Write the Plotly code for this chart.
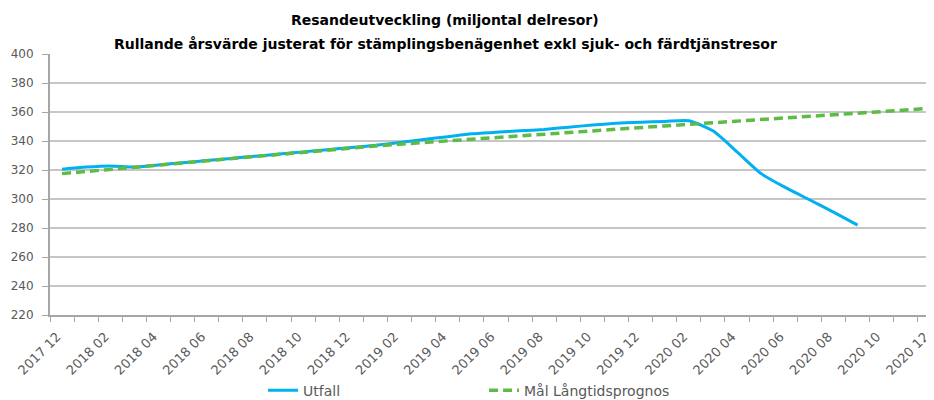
import plotly.graph_objects as go

months = [
    "2017 12",
    "2018 01", "2018 02", "2018 03", "2018 04", "2018 05", "2018 06",
    "2018 07", "2018 08", "2018 09", "2018 10", "2018 11", "2018 12",
    "2019 01", "2019 02", "2019 03", "2019 04", "2019 05", "2019 06",
    "2019 07", "2019 08", "2019 09", "2019 10", "2019 11", "2019 12",
    "2020 01", "2020 02", "2020 03", "2020 04", "2020 05", "2020 06",
    "2020 07", "2020 08", "2020 09", "2020 10", "2020 11", "2020 12",
]

utfall = [
    320.5, 322.0, 322.8, 322.0, 323.5, 325.0, 326.5, 328.0, 329.5, 331.0,
    332.5, 334.0, 335.5, 337.0, 339.0, 341.0, 343.0, 345.0, 346.0, 347.0,
    348.0, 349.5, 351.0, 352.3, 353.0, 353.5, 354.0, 347.0, 332.5, 317.5,
    308.0, 299.5, 291.0, 282.0,
]

mal = [
    317.5, 319.0, 320.5, 322.0, 323.5, 325.0, 326.5, 328.0, 329.5, 331.0,
    332.5, 334.0, 335.5, 336.6, 337.8, 339.0, 340.1, 341.3, 342.4, 343.6,
    344.7, 345.9, 347.0, 348.2, 349.3, 350.4, 351.5, 352.6, 353.7, 354.8,
    355.9, 357.0, 358.1, 359.2, 360.3, 361.4, 362.5,
]

y_ticks = [220, 240, 260, 280, 300, 320, 340, 360, 380, 400]

title_line1 = "Resandeutveckling (miljontal delresor)"
title_line2 = "Rullande årsvärde justerat för stämplingsbenägenhet exkl sjuk- och färdtjänstresor"

idx = list(range(len(months)))
label_idx = idx[::2]
label_txt = months[::2]
boundaries = [i - 0.5 for i in range(len(months) + 1)]

FONT = "DejaVu Sans, Liberation Sans, Arial, sans-serif"
TXT = "#595959"

fig = go.Figure()
fig.add_trace(go.Scatter(
    x=idx[:len(utfall)], y=utfall, mode="lines", name="Utfall",
    line=dict(color="#00B0F0", width=3, shape="spline", smoothing=0.6),
))
fig.add_trace(go.Scatter(
    x=idx, y=mal, mode="lines", name="Mål Långtidsprognos",
    line=dict(color="#5DBB46", width=3.5, dash="9px,5px"),
))

# The page body adds an 8px offset, so the figure is sized to the visible area.
fig.update_layout(
    width=926, height=392,
    margin=dict(l=42, r=0, t=46, b=85, autoexpand=False),
    paper_bgcolor="white", plot_bgcolor="white",
    font=dict(family=FONT, color=TXT, size=12),
    showlegend=True,
    legend=dict(
        orientation="h", x=0.241, xanchor="left", y=-0.29, yanchor="middle",
        font=dict(size=14, color=TXT), entrywidth=176, entrywidthmode="pixels",
        bgcolor="rgba(0,0,0,0)",
    ),
    annotations=[
        dict(text="<b>" + title_line1 + "</b>", xref="paper", yref="paper",
             x=0.447, y=1.13, xanchor="center", yanchor="middle", showarrow=False,
             font=dict(size=14, color="#000000", family=FONT)),
        dict(text="<b>" + title_line2 + "</b>", xref="paper", yref="paper",
             x=0.447, y=1.04, xanchor="center", yanchor="middle", showarrow=False,
             font=dict(size=14, color="#000000", family=FONT)),
    ],
)

fig.update_xaxes(
    range=[-0.5, 36.17], automargin=False,
    tickmode="array", tickvals=label_idx, ticktext=label_txt,
    tickangle=-45, ticks="", showgrid=False, zeroline=False,
    showline=True, linecolor="#a6a6a6", linewidth=2,
    tickfont=dict(size=13, color=TXT), ticklabeloverflow="allow",
    ticklabelstandoff=7, ticklabelshift=-5,
    minor=dict(tickmode="array", tickvals=boundaries, ticks="outside",
               ticklen=5, tickcolor="#a6a6a6", tickwidth=1, showgrid=False),
)
fig.update_yaxes(
    range=[220, 400], automargin=False, tickmode="array", tickvals=y_ticks,
    showgrid=True, gridcolor="#c6c6c6", gridwidth=2,
    zeroline=False, showline=True, linecolor="#a6a6a6", linewidth=2,
    ticks="outside", ticklen=6, tickcolor="#a6a6a6",
    tickfont=dict(size=12, color=TXT), ticklabelstandoff=6,
)

fig.write_html("out.html")
